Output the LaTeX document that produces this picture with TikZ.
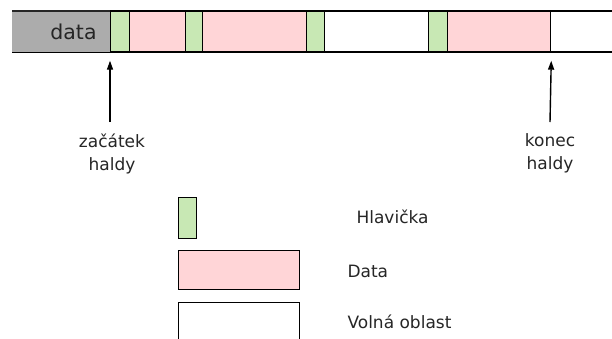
\documentclass[tikz,border=0pt]{standalone}
\usepackage{fontspec}
\setmainfont{DejaVu Sans}
\usetikzlibrary{arrows.meta}
\definecolor{hdr}{RGB}{200,232,180}
\definecolor{dat}{RGB}{255,213,215}
\definecolor{grayfill}{RGB}{172,172,172}
\tikzset{
  seg/.style={rectangle, draw=black, line width=1.4pt, inner sep=0pt, minimum height=41pt, anchor=west},
  hdrbox/.style={seg, fill=hdr, minimum width=#1},
  datbox/.style={seg, fill=dat, minimum width=#1},
  freebox/.style={seg, fill=white, minimum width=#1},
  lbl/.style={font=\fontsize{17pt}{23pt}\selectfont, align=center, text=black!85},
  legtxt/.style={font=\fontsize{17pt}{20pt}\selectfont, anchor=west, text=black!85},
  ptr/.style={line width=1.4pt, -{Triangle[length=9pt,width=6pt]}, shorten >=8pt}
}
\begin{document}
\begin{tikzpicture}[x=1pt,y=-1pt]
\clip (0,0) rectangle (612,338);
\fill[white] (0,0) rectangle (612,338);
% gray region
\node[rectangle, fill=grayfill, inner sep=0pt, minimum width=98pt, minimum height=41pt, anchor=west] (gray) at (12,31.5) {};
\node[font=\fontsize{20.5pt}{24pt}\selectfont, text=black!85] (datatxt) at (73.5,32) {data};
% segments
\node[hdrbox=19pt] (g1) at (110,31.5) {};
\node[datbox=56pt] (p1) at (129,31.5) {};
\node[hdrbox=17pt] (g2) at (185,31.5) {};
\node[datbox=104pt] (p2) at (202,31.5) {};
\node[hdrbox=18pt] (g3) at (306,31.5) {};
\node[freebox=104pt] (w1) at (324,31.5) {};
\node[hdrbox=19pt] (g4) at (428,31.5) {};
\node[datbox=103pt] (p3) at (447,31.5) {};
\node[freebox=80pt] (w2) at (550,31.5) {};
% top and bottom lines across the gray part
\draw[line width=1.4pt, black!85] (gray.north west) -- (gray.north east);
\draw[line width=1.4pt, black] (gray.south west) -- (gray.south east);
% pointers
\coordinate (sa) at (110,122);
\coordinate (ea) at (550,122);
\draw[ptr] (sa) -- (g1.south west);
\draw[ptr] (ea) -- (p3.south east);
\node[lbl] (start) at (112,153.5) {začátek\\haldy};
\node[lbl] (end) at (550,153.5) {konec\\haldy};
% legend
\node[seg, fill=hdr, minimum width=18pt, minimum height=41pt, anchor=north west] (lh) at (178,197) {};
\node[seg, fill=dat, minimum width=121pt, minimum height=39pt, anchor=north west] (ld) at (178,250) {};
\node[seg, fill=white, minimum width=121pt, minimum height=50pt, anchor=north west] (lf) at (178,302) {};
\node[legtxt] (th) at (353,217) {Hlavička};
\node[legtxt] (td) at (344,271) {Data};
\node[legtxt] (tf) at (344,322) {Volná oblast};
\end{tikzpicture}
\end{document}
